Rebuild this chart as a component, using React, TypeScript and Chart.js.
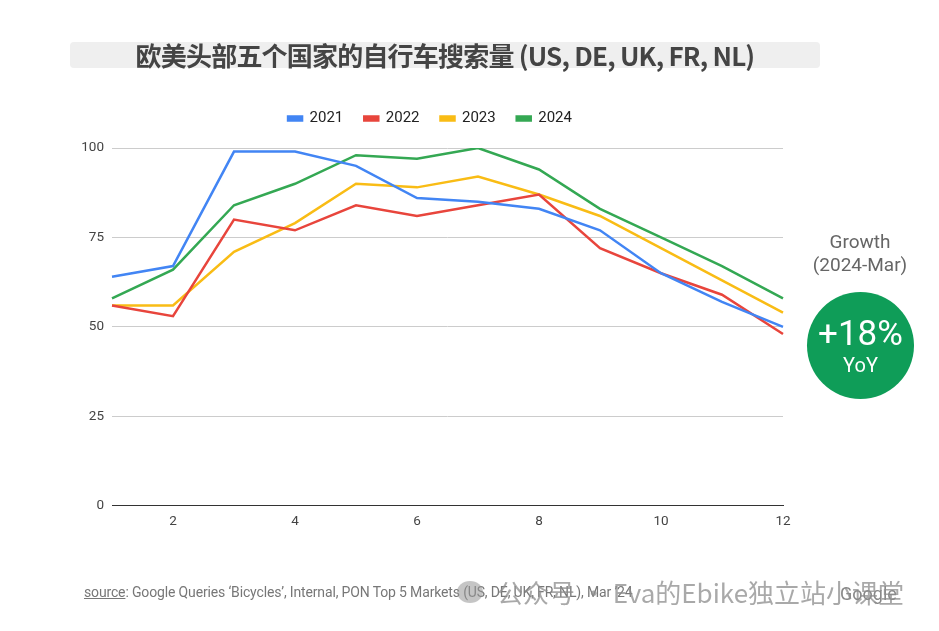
import React, { useEffect, useRef } from "react";
import { Chart, registerables } from "chart.js";

Chart.register(...registerables);

const months = ["1", "2", "3", "4", "5", "6", "7", "8", "9", "10", "11", "12"];
const years = ["2021", "2022", "2023", "2024"];
const colors = ["#4285F4", "#E8453C", "#F9BC15", "#34A853"];
const v2021 = [64, 67, 99, 99, 95, 86, 85, 83, 77, 65, 57, 50];
const v2022 = [56, 53, 80, 77, 84, 81, 84, 87, 72, 65, 59, 48];
const v2023 = [56, 56, 71, 79, 90, 89, 92, 87, 81, 72, 63, 54];
const v2024 = [58, 66, 84, 90, 98, 97, 100, 94, 83, 75, 67, 58];
const series = [v2021, v2022, v2023, v2024];

const titleText = "欧美头部五个国家的自行车搜索量 (US, DE, UK, FR, NL)";
const growthLabel = "Growth";
const growthPeriod = "(2024-Mar)";
const growthValue = "+18%";
const growthUnit = "YoY";

const legendGap = {
  id: "legendGap",
  beforeLayout(chart: any) {
    const lg = chart.legend;
    if (lg && !lg._gapPatched) {
      const f = lg.fit;
      lg.fit = function () {
        f.call(this);
        this.height += 12;
      };
      lg._gapPatched = true;
    }
  },
};

export default function App() {
  const ref = useRef<HTMLCanvasElement | null>(null);

  useEffect(() => {
    if (!ref.current) return;
    const chart = new Chart(ref.current, {
      type: "line",
      data: {
        labels: months,
        datasets: years.map((y, i) => ({
          label: y,
          data: series[i],
          borderColor: colors[i],
          backgroundColor: colors[i],
          borderWidth: 2.5,
          pointRadius: 0,
          tension: 0,
        })),
      },
      plugins: [legendGap],
      options: {
        animation: false,
        responsive: false,
        maintainAspectRatio: false,
        layout: { padding: { left: 77, right: 156, top: 90, bottom: 93 } },
        plugins: {
          legend: {
            position: "top",
            labels: {
              boxWidth: 14,
              boxHeight: 4,
              padding: 21,
              color: "#222",
              font: { family: "Roboto", size: 15 },
            },
          },
          tooltip: { enabled: false },
        },
        scales: {
          x: {
            offset: false,
            grid: { display: false, drawTicks: false },
            border: { display: true, color: "#333", width: 1 },
            ticks: {
              autoSkip: false,
              maxRotation: 0,
              padding: 8,
              color: "#444",
              font: { family: "Roboto", size: 13.5 },
              callback: (_v: any, idx: number) => (idx % 2 === 1 ? months[idx] : ""),
            },
          },
          y: {
            min: 0,
            max: 100,
            afterFit: (s: any) => {
              s.width = 35;
            },
            ticks: {
              stepSize: 25,
              padding: 8,
              color: "#444",
              font: { family: "Roboto", size: 13.5 },
            },
            border: { display: false },
            grid: {
              drawTicks: false,
              color: (ctx: any) => (ctx.tick && ctx.tick.value === 0 ? "rgba(0,0,0,0)" : "#cccccc"),
              lineWidth: 1,
            },
          },
        },
      },
    });
    return () => chart.destroy();
  }, []);

  return (
    <div
      style={{
        position: "fixed",
        left: 0,
        top: 0,
        width: 939,
        height: 631,
        background: "#fff",
        overflow: "hidden",
        fontFamily: "Roboto, sans-serif",
      }}
    >
      <canvas ref={ref} width={939} height={631} style={{ position: "absolute", left: 0, top: 0 }} />
      <div
        style={{
          position: "absolute",
          left: 70,
          top: 42,
          width: 750,
          height: 26,
          background: "#efefef",
          borderRadius: 4,
        }}
      />
      <div
        style={{
          position: "absolute",
          left: 70,
          top: 37,
          width: 750,
          height: 36,
          lineHeight: "36px",
          textAlign: "center",
          fontFamily: "'Noto Sans CJK SC', sans-serif",
          fontWeight: 700,
          fontSize: 26,
          color: "#444",
          letterSpacing: -0.8,
        }}
      >
        {titleText}
      </div>
      <div
        style={{
          position: "absolute",
          left: 790,
          top: 230,
          width: 140,
          textAlign: "center",
          color: "#666",
          fontSize: 19,
          lineHeight: "23px",
        }}
      >
        <div>{growthLabel}</div>
        <div>{growthPeriod}</div>
      </div>
      <div
        style={{
          position: "absolute",
          left: 807,
          top: 292,
          width: 107,
          height: 107,
          borderRadius: "50%",
          background: "#0F9D58",
          color: "#fff",
          textAlign: "center",
        }}
      >
        <div style={{ fontSize: 35, lineHeight: "40px", marginTop: 22 }}>{growthValue}</div>
        <div style={{ fontSize: 20, lineHeight: "22px", marginTop: 0 }}>{growthUnit}</div>
      </div>
      <div
        style={{
          position: "absolute",
          left: 84,
          top: 584,
          fontSize: 14,
          color: "#777",
          letterSpacing: -0.15,
          whiteSpace: "nowrap",
        }}
      >
        <span style={{ textDecoration: "underline" }}>source</span>
        : Google Queries ‘Bicycles’, Internal, PON Top 5 Markets (US, DE, UK, FR, NL), Mar ’24
      </div>
      <div
        style={{
          position: "absolute",
          left: 840,
          top: 583,
          fontSize: 18,
          color: "#888",
          whiteSpace: "nowrap",
        }}
      >
        Google
      </div>
      <div
        style={{
          position: "absolute",
          left: 457,
          top: 581,
          width: 26,
          height: 22,
          borderRadius: "50%",
          background: "rgba(150,150,150,0.55)",
        }}
      />
      <div
        style={{
          position: "absolute",
          left: 497,
          top: 573,
          fontSize: 26,
          fontFamily: "'Noto Sans CJK SC', sans-serif",
          color: "rgba(140,140,140,0.75)",
          whiteSpace: "nowrap",
        }}
      >
        公众号 · Eva的Ebike独立站小课堂
      </div>
    </div>
  );
}
